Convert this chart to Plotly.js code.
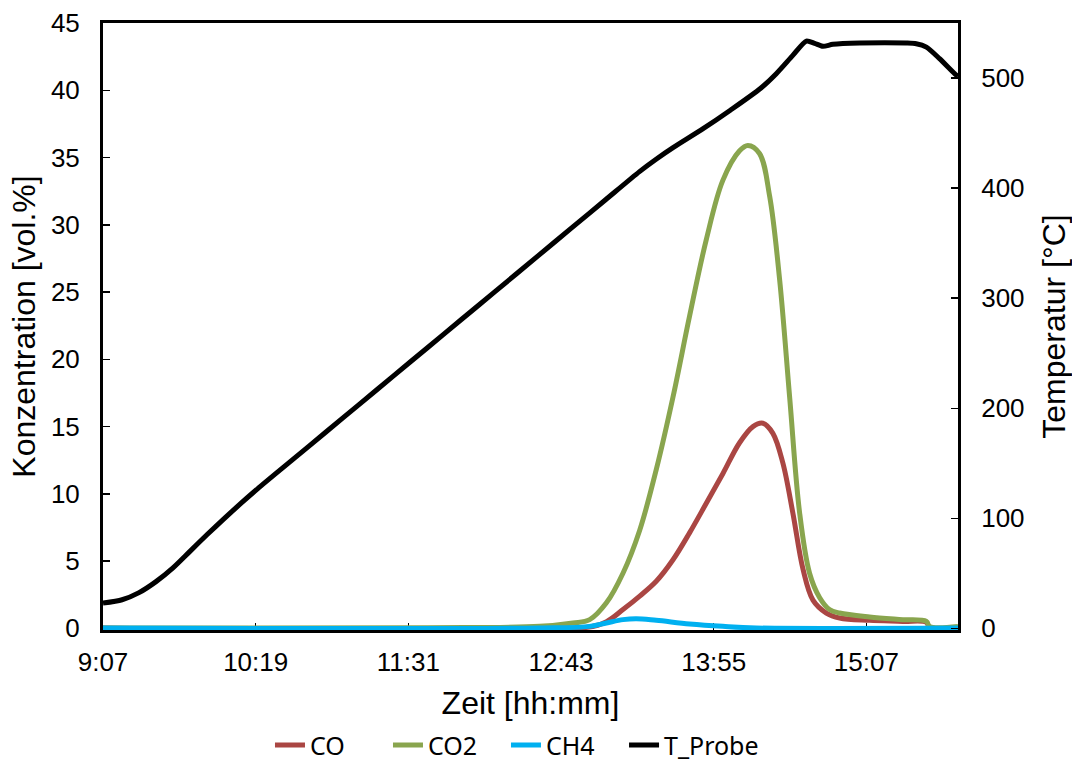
<!DOCTYPE html>
<html>
<head>
<meta charset="utf-8">
<script src="https://cdn.plot.ly/plotly-3.0.1.min.js"></script>
<style>
  html, body { margin: 0; padding: 0; background: #fff; }
  #chart { width: 1072px; height: 765px; }
</style>
</head>
<body>
<div id="chart"></div>
<script>
// time in minutes since midnight
const tickMinutes = [547, 619, 691, 763, 835, 907];
const tickLabels = ['9:07', '10:19', '11:31', '12:43', '13:55', '15:07'];

const tCO = [547, 774.1, 784.4, 792.2, 800.1, 807.9, 815.8, 823.6, 831.5, 839.3, 847.2, 853.5, 858.2, 862.9, 867.6, 872.3, 877.1, 881.8, 888.1, 894.4, 908.5, 924.2, 935.3, 936.8, 950.2];
const valCO = [0.02, 0.05, 0.5, 1.4, 2.4, 3.5, 5.1, 7.1, 9.3, 11.5, 13.8, 15.0, 15.25, 14.5, 12.3, 8.6, 4.4, 2.1, 1.14, 0.77, 0.6, 0.52, 0.45, 0.05, 0.05];

const tCO2 = [547, 700, 752.9, 768.6, 776.5, 784.4, 792.2, 800.1, 807.9, 815.8, 823.6, 831.5, 839.3, 847.2, 851.1, 856.6, 861.4, 866.1, 870.8, 875.5, 880.2, 884.9, 889.6, 894.4, 908.5, 924.2, 935.3, 936.8, 950.2];
const valCO2 = [0.02, 0.05, 0.15, 0.4, 0.65, 1.9, 4.1, 7.3, 11.8, 17.2, 23.2, 28.9, 33.3, 35.5, 35.9, 35.3, 32.1, 25.9, 17.2, 8.6, 4.1, 2.3, 1.4, 1.14, 0.85, 0.65, 0.52, 0.15, 0.15];

const tCH4 = [547, 752.9, 776.5, 784.4, 792.2, 798.5, 807.9, 823.6, 839.3, 855.1, 950.2];
const valCH4 = [0.02, 0.03, 0.15, 0.4, 0.65, 0.72, 0.6, 0.33, 0.15, 0.03, 0.02];

const tT = [547, 556, 564, 572, 580, 588, 596, 604, 612, 620, 636, 652, 668, 684, 700, 716, 732, 752, 768, 784, 800, 808, 816, 830, 843, 857, 864.5, 872.3, 878.7, 882.6, 886.5, 891.2, 903.8, 925.8, 930.5, 935.3, 941.5, 948.6, 950.2];
const valT = [23, 26, 32.5, 42.5, 55, 70, 85, 99.5, 113.5, 127, 152.6, 178.2, 203.8, 229.4, 255, 280.6, 306.2, 338.2, 363.8, 389.4, 415, 426.5, 437, 454, 471, 490.5, 504, 520.6, 533.6, 531.5, 528.8, 530.6, 531.8, 531.8, 531.2, 528.1, 517.6, 504, 501.5];

const seriesNames = ['CO', 'CO2', 'CH4', 'T_Probe'];
const colors = ['#AA4643', '#89A54E', '#00B0F0', '#000000'];

function line(x, y, i, yaxis, smooth, legendId) {
  return {
    x: x, y: y, name: seriesNames[i], type: 'scatter', mode: 'lines',
    yaxis: yaxis, legend: legendId,
    line: { color: colors[i], width: 5, shape: 'spline', smoothing: smooth },
    hoverinfo: 'x+y'
  };
}

const data = [
  line(tCO, valCO, 0, 'y', 1.0, 'legend'),
  line(tCO2, valCO2, 1, 'y', 1.0, 'legend'),
  line(tCH4, valCH4, 2, 'y', 1.0, 'legend'),
  line(tT, valT, 3, 'y2', 0.7, 'legend2')
];

const tickFont = { family: 'Liberation Sans, Arial, sans-serif', size: 26, color: '#000' };
const titleFont = { family: 'Liberation Sans, Arial, sans-serif', size: 32, color: '#000' };
const legendFont = { family: 'Noto Sans, sans-serif', size: 25, color: '#000' };

const layout = {
  width: 1072, height: 765,
  margin: { l: 103, r: 114, t: 23, b: 135, autoexpand: false },
  paper_bgcolor: '#fff', plot_bgcolor: '#fff',
  showlegend: true,
  legend: {
    orientation: 'h', x: 0.1953, xanchor: 'left', y: -0.19, yanchor: 'middle',
    font: legendFont, itemwidth: 30, traceorder: 'normal',
    entrywidth: 73, entrywidthmode: 'pixels'
  },
  legend2: {
    orientation: 'h', x: 0.6094, xanchor: 'left', y: -0.19, yanchor: 'middle',
    font: legendFont, itemwidth: 30
  },
  xaxis: {
    range: [547, 950.2],
    tickvals: tickMinutes, ticktext: tickLabels,
    ticks: 'inside', ticklen: 7, tickwidth: 1.5, tickcolor: '#000',
    showline: true, linecolor: '#000', linewidth: 3, mirror: true,
    showgrid: false, zeroline: false,
    tickfont: tickFont, ticklabelstandoff: 7,
    layer: 'below traces',
    title: { text: 'Zeit [hh:mm]', font: titleFont, standoff: 16 },
    automargin: false
  },
  yaxis: {
    range: [-0.12, 45],
    tickvals: [0, 5, 10, 15, 20, 25, 30, 35, 40, 45],
    ticks: 'inside', ticklen: 7, tickwidth: 1.5, tickcolor: '#000',
    showline: true, linecolor: '#000', linewidth: 3,
    showgrid: false, zeroline: false,
    tickfont: tickFont, ticklabelstandoff: 15,
    layer: 'below traces',
    title: { text: 'Konzentration [vol.%]', font: titleFont, standoff: 6 },
    automargin: false
  },
  yaxis2: {
    range: [-1.467, 550],
    overlaying: 'y', side: 'right',
    tickvals: [0, 100, 200, 300, 400, 500],
    ticks: 'inside', ticklen: 7, tickwidth: 1.5, tickcolor: '#000',
    showline: true, linecolor: '#000', linewidth: 3,
    showgrid: false, zeroline: false,
    tickfont: tickFont, ticklabelstandoff: 15,
    title: { text: 'Temperatur [°C]', font: titleFont, standoff: 21 },
    automargin: false
  }
};

Plotly.newPlot('chart', data, layout, { displayModeBar: false, staticPlot: true });
</script>
</body>
</html>
